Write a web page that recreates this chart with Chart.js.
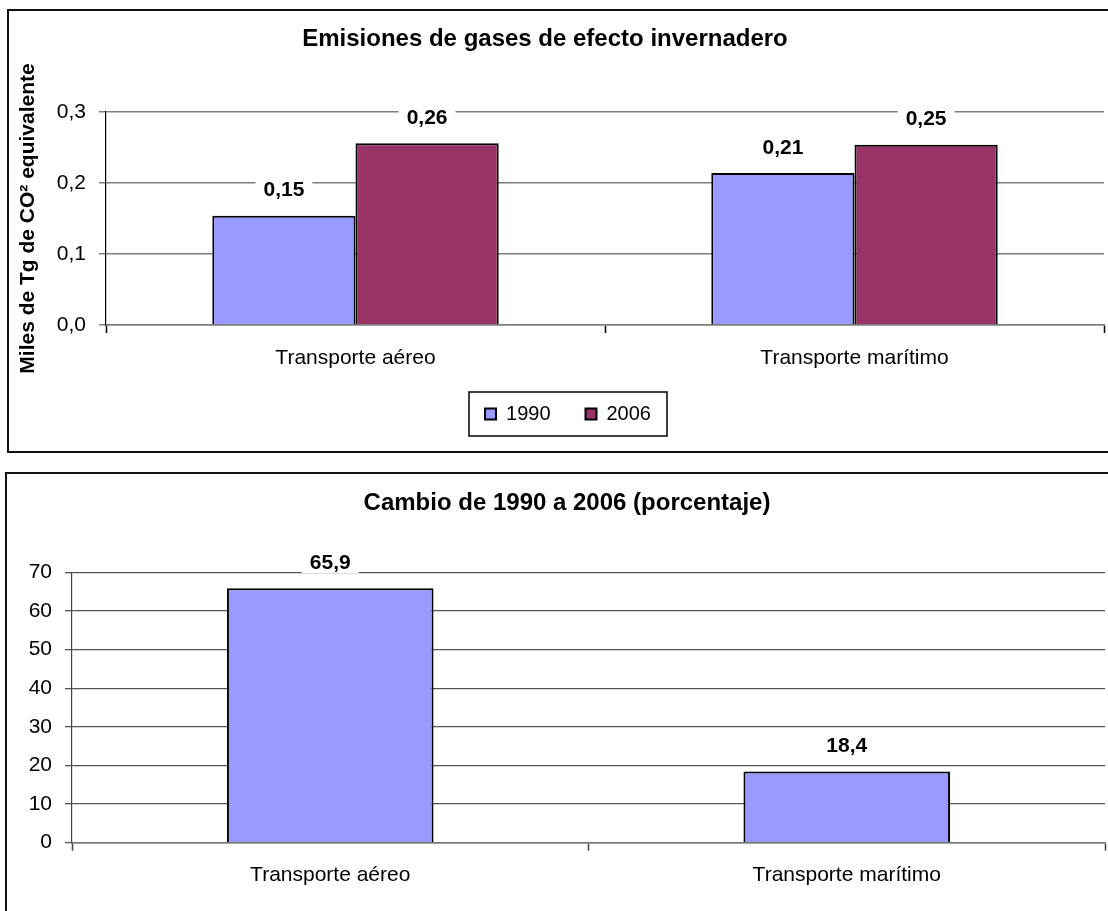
<!DOCTYPE html>
<html lang="es">
<head>
<meta charset="utf-8">
<script src="https://cdn.jsdelivr.net/npm/chart.js@4.4.1/dist/chart.umd.min.js"></script>
<style>
  html, body { margin: 0; padding: 0; background: #fff; overflow: hidden; }
  body { width: 1108px; height: 911px; position: relative; }
  .marco { position: absolute; border: 2px solid #111; box-sizing: border-box; }
  canvas { position: absolute; left: 0; }
</style>
</head>
<body>
<div class="marco" style="left:7px; top:9px; width:1130px; height:444px"></div>
<div class="marco" style="left:5px; top:472px; width:1130px; height:470px"></div>
<canvas id="chartEmisiones" width="1108" height="460" style="top:0"></canvas>
<canvas id="chartCambio" width="1108" height="451" style="top:460px"></canvas>
<script>
// datos
const categorias = ['Transporte aéreo', 'Transporte marítimo'];
const series = ['1990', '2006'];
const emisiones1990 = [0.154, 0.214];
const emisiones2006 = [0.256, 0.254];
const ticksEmisiones = [0, 0.1, 0.2, 0.3];
const cambioPorcentaje = [65.9, 18.4];
const ticksCambio = [0, 10, 20, 30, 40, 50, 60, 70];

const colores = ['#9999FF', '#993366'];
const fuente = '"Liberation Sans", Arial, sans-serif';

Chart.defaults.font.family = fuente;
Chart.defaults.color = '#000';

const coma = (v, d) => v.toFixed(d).replace('.', ',');

// etiquetas de valor con fondo blanco sobre las barras
const etiquetasValor = {
  id: 'etiquetasValor',
  afterDatasetsDraw(chart, args, opts) {
    const ctx = chart.ctx;
    ctx.save();
    ctx.font = 'bold 21px ' + fuente;
    ctx.textAlign = 'center';
    ctx.textBaseline = 'middle';
    chart.data.datasets.forEach((ds, i) => {
      chart.getDatasetMeta(i).data.forEach((bar, j) => {
        const txt = coma(ds.data[j], opts.decimales);
        const w = ctx.measureText(txt).width + 16;
        const y = bar.y - 26;
        ctx.fillStyle = '#fff';
        ctx.fillRect(bar.x - w / 2, y - 11, w, 22);
        ctx.fillStyle = '#000';
        ctx.fillText(txt, bar.x, y + 1);
      });
    });
    ctx.restore();
  }
};

// mueve título y leyenda en horizontal
const desplazar = {
  id: 'desplazar',
  afterLayout(chart, args, opts) {
    if (chart.titleBlock && opts.titulo) {
      chart.titleBlock.left += opts.titulo;
      chart.titleBlock.right += opts.titulo;
    }
    if (chart.legend && opts.leyenda) {
      chart.legend.left += opts.leyenda;
      chart.legend.right += opts.leyenda;
    }
  }
};

// recuadro alrededor de la leyenda
const marcoLeyenda = {
  id: 'marcoLeyenda',
  afterDraw(chart) {
    const cajas = chart.legend.legendHitBoxes;
    if (!cajas || !cajas.length) return;
    const a = cajas[0], b = cajas[cajas.length - 1];
    const cy = a.top + a.height / 2;
    const ctx = chart.ctx;
    ctx.save();
    ctx.strokeStyle = '#000';
    ctx.lineWidth = 1.5;
    ctx.strokeRect(a.left - 16, cy - 22, b.left + b.width - a.left + 32, 44);
    ctx.restore();
  }
};

// === Emisiones de gases de efecto invernadero ===
new Chart(document.getElementById('chartEmisiones'), {
  type: 'bar',
  data: {
    labels: categorias,
    datasets: [
      { label: series[0], data: emisiones1990, backgroundColor: colores[0], borderColor: '#000', borderWidth: 2 },
      { label: series[1], data: emisiones2006, backgroundColor: colores[1], borderColor: '#000', borderWidth: 2 }
    ]
  },
  options: {
    responsive: false,
    animation: false,
    layout: { padding: { left: 0, right: 4, top: 0, bottom: 26 } },
    datasets: { bar: { barPercentage: 1, categoryPercentage: 0.574 } },
    scales: {
      x: {
        grid: { drawOnChartArea: false, tickLength: 8, tickColor: '#000', tickWidth: 1.5 },
        border: { color: '#7f7f7f', width: 1.5 },
        ticks: { font: { size: 21 }, padding: 12.4 },
        afterFit: s => { s.height = 44; }
      },
      y: {
        min: 0,
        max: 0.3,
        afterBuildTicks: s => { s.ticks = ticksEmisiones.map(v => ({ value: v })); },
        grid: { color: '#7f7f7f', lineWidth: 1.5, tickLength: 7 },
        border: { color: '#000', width: 1.2 },
        ticks: { font: { size: 21 }, padding: 13, callback: v => coma(v, 1) },
        title: {
          display: true,
          text: 'Miles de Tg de CO² equivalente',
          font: { size: 21, weight: 'bold' },
          padding: { top: 15.4, bottom: 0 }
        },
        afterFit: s => { s.width = 106; }
      }
    },
    plugins: {
      title: {
        display: true,
        text: 'Emisiones de gases de efecto invernadero',
        font: { size: 24, weight: 'bold' },
        color: '#000',
        padding: { top: 24.6, bottom: 58.6 }
      },
      legend: {
        position: 'bottom',
        labels: { boxWidth: 11, boxHeight: 11, padding: 35, font: { size: 20 }, color: '#000' }
      },
      tooltip: { enabled: false },
      etiquetasValor: { decimales: 2 },
      desplazar: { titulo: -7, leyenda: 16 }
    }
  },
  plugins: [etiquetasValor, desplazar, marcoLeyenda]
});

// === Cambio de 1990 a 2006 (porcentaje) ===
new Chart(document.getElementById('chartCambio'), {
  type: 'bar',
  data: {
    labels: categorias,
    datasets: [
      { label: 'Cambio', data: cambioPorcentaje, backgroundColor: colores[0], borderColor: '#000', borderWidth: 2 }
    ]
  },
  options: {
    responsive: false,
    animation: false,
    layout: { padding: { left: 0, right: 3, top: 0, bottom: 18.3 } },
    datasets: { bar: { barPercentage: 1, categoryPercentage: 0.4 } },
    scales: {
      x: {
        grid: { drawOnChartArea: false, tickLength: 8, tickColor: '#444', tickWidth: 1.5 },
        border: { color: '#777', width: 1.5 },
        ticks: { font: { size: 21 }, padding: 12.4 },
        afterFit: s => { s.height = 50; }
      },
      y: {
        min: 0,
        max: 70,
        afterBuildTicks: s => { s.ticks = ticksCambio.map(v => ({ value: v })); },
        grid: { color: '#555', lineWidth: 1.3, tickLength: 7 },
        border: { color: '#444', width: 1.2 },
        ticks: { font: { size: 21 }, padding: 13 },
        afterFit: s => { s.width = 72; }
      }
    },
    plugins: {
      title: {
        display: true,
        text: 'Cambio de 1990 a 2006 (porcentaje)',
        font: { size: 24, weight: 'bold' },
        color: '#000',
        padding: { top: 28.9, bottom: 54.6 }
      },
      legend: { display: false },
      tooltip: { enabled: false },
      etiquetasValor: { decimales: 1 },
      desplazar: { titulo: 14.5 }
    }
  },
  plugins: [etiquetasValor, desplazar]
});
</script>
</body>
</html>
